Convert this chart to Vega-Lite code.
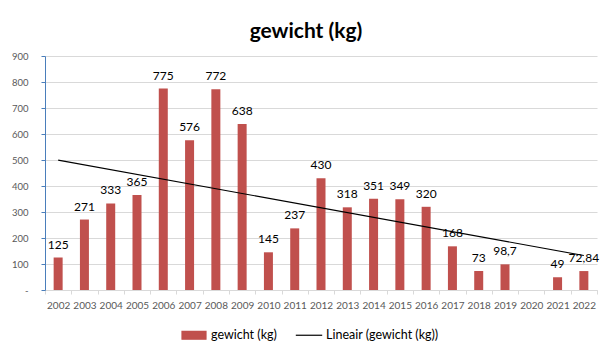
{
  "$schema": "https://vega.github.io/schema/vega-lite/v6.json",
  "width": 552,
  "height": 234,
  "autosize": "none",
  "padding": {"left": 45, "top": 56, "right": 15, "bottom": 64},
  "background": "white",
  "title": {
    "text": "gewicht (kg)",
    "font": "Lato",
    "fontSize": 21,
    "fontWeight": "bold",
    "color": "#000000",
    "anchor": "middle",
    "dx": -15,
    "dy": 26,
    "offset": 18,
    "baseline": "alphabetic"
  },
  "config": {
    "view": {"stroke": null},
    "locale": {"number": {"decimal": ",", "thousands": ".", "grouping": [3], "currency": ["€", ""]}}
  },
  "data": {
    "values": [
      {"year": 2002, "kg": 125},
      {"year": 2003, "kg": 271},
      {"year": 2004, "kg": 333},
      {"year": 2005, "kg": 365},
      {"year": 2006, "kg": 775},
      {"year": 2007, "kg": 576},
      {"year": 2008, "kg": 772},
      {"year": 2009, "kg": 638},
      {"year": 2010, "kg": 145},
      {"year": 2011, "kg": 237},
      {"year": 2012, "kg": 430},
      {"year": 2013, "kg": 318},
      {"year": 2014, "kg": 351},
      {"year": 2015, "kg": 349},
      {"year": 2016, "kg": 320},
      {"year": 2017, "kg": 168},
      {"year": 2018, "kg": 73},
      {"year": 2019, "kg": 98.7},
      {"year": 2020, "kg": null},
      {"year": 2021, "kg": 49},
      {"year": 2022, "kg": 72.84}
    ]
  },
  "encoding": {
    "x": {
      "field": "year",
      "type": "ordinal",
      "scale": {
        "domain": [2002, 2003, 2004, 2005, 2006, 2007, 2008, 2009, 2010, 2011, 2012, 2013, 2014, 2015, 2016, 2017, 2018, 2019, 2020, 2021, 2022],
        "paddingInner": 0,
        "paddingOuter": 0
      },
      "axis": {
        "title": null,
        "labelAngle": 0,
        "tickBand": "extent",
        "grid": false,
        "domainColor": "#D9D9D9",
        "tickColor": "#D9D9D9",
        "tickSize": 4,
        "labelColor": "#595959",
        "labelFont": "Lato",
        "labelFontSize": 10,
        "labelPadding": 6
      }
    },
    "y": {
      "field": "kg",
      "type": "quantitative",
      "scale": {"domain": [0, 900], "nice": false},
      "axis": {
        "title": null,
        "values": [0, 100, 200, 300, 400, 500, 600, 700, 800, 900],
        "labelExpr": "datum.value === 0 ? '-' : datum.label",
        "domainColor": "#4A7EBB",
        "tickColor": "#4A7EBB",
        "tickSize": 4,
        "gridColor": "#D9D9D9",
        "labelColor": "#595959",
        "labelFont": "Lato",
        "labelFontSize": 9.5,
        "labelPadding": 13
      }
    }
  },
  "layer": [
    {
      "mark": {"type": "bar", "size": 9},
      "encoding": {
        "color": {
          "datum": "gewicht (kg)",
          "type": "nominal",
          "scale": {"domain": ["gewicht (kg)", "Lineair (gewicht (kg))"], "range": ["#C0504D", "#000000"]},
          "legend": {
            "title": null,
            "orient": "none",
            "legendX": 136,
            "legendY": 266,
            "direction": "horizontal",
            "labelFont": "Lato",
            "labelFontSize": 12.5,
            "labelColor": "#000000",
            "labelOffset": 4,
            "columnPadding": 16,
            "symbolSize": 576,
            "encode": {
              "symbols": {
                "update": {
                  "shape": {"signal": "datum.value === 'gewicht (kg)' ? 'M-1,-0.33H1V0.33H-1Z' : 'M-1.1,0H1.1'"},
                  "fill": {"signal": "datum.value === 'gewicht (kg)' ? '#C0504D' : 'transparent'"},
                  "stroke": {"signal": "datum.value === 'gewicht (kg)' ? 'transparent' : '#000000'"},
                  "strokeWidth": {"value": 1.2},
                  "opacity": {"value": 1}
                }
              }
            }
          }
        }
      }
    },
    {
      "transform": [{"filter": "isValid(datum.kg)"}],
      "mark": {"type": "text", "font": "Lato", "fontSize": 12, "color": "#000000", "baseline": "alphabetic", "dy": -9},
      "encoding": {
        "text": {"field": "kg", "type": "quantitative", "format": ".4~r"}
      }
    },
    {
      "transform": [{"regression": "kg", "on": "year"}],
      "mark": {"type": "line", "color": "#000000", "strokeWidth": 1.1},
      "encoding": {
        "color": {"datum": "Lineair (gewicht (kg))", "type": "nominal"}
      }
    }
  ]
}
